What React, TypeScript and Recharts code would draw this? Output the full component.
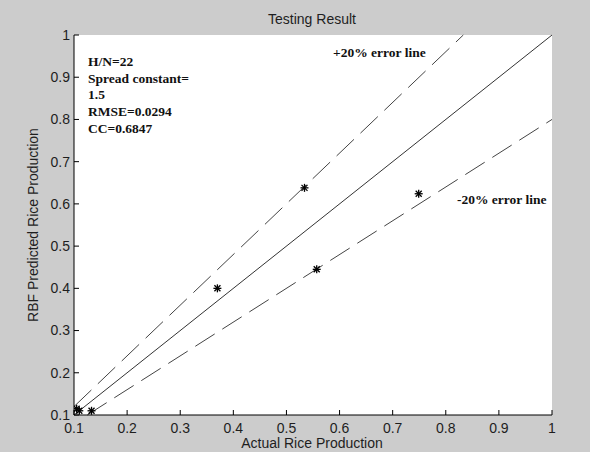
import { ComposedChart, XAxis, YAxis, Scatter, ReferenceLine, CartesianGrid } from 'recharts';

// measured values (actual vs RBF predicted)
const actual = [0.105, 0.11, 0.133, 0.37, 0.534, 0.557, 0.749];
const predicted = [0.115, 0.11, 0.11, 0.4, 0.638, 0.445, 0.624];

const ticks = [0.1, 0.2, 0.3, 0.4, 0.5, 0.6, 0.7, 0.8, 0.9, 1];
const tickLabels = ['0.1', '0.2', '0.3', '0.4', '0.5', '0.6', '0.7', '0.8', '0.9', '1'];

// reference lines: ideal, +20% and -20% error (start/end points)
const idealLine = [{ x: 0.1, y: 0.1 }, { x: 1, y: 1 }];
const plusLine = [{ x: 0.1, y: 0.12 }, { x: 0.833, y: 1 }];
const minusLine = [{ x: 0.125, y: 0.1 }, { x: 1, y: 0.8 }];

const infoLines = ['H/N=22', 'Spread constant=', '1.5', 'RMSE=0.0294', 'CC=0.6847'];

const points = actual.map((x, i) => ({ x, y: predicted[i] }));

const SANS = '"Liberation Sans", Arial, sans-serif';
const SERIF = '"Liberation Serif", "Times New Roman", serif';
const TEXT = '#1e1e1e';

const labelOf = (v: number) => tickLabels[ticks.indexOf(v)] ?? String(v);

const BottomTick = (props: any) => {
  const { x, y, payload } = props;
  return (
    <g>
      <line x1={x} x2={x} y1={y} y2={y - 5} stroke="#000" />
      <text x={x} y={y + 13} dy="0.35em" textAnchor="middle" fontSize={14} fontFamily={SANS} fill={TEXT}>
        {labelOf(payload.value)}
      </text>
    </g>
  );
};

const TopTick = (props: any) => {
  const { x, y } = props;
  return <line x1={x} x2={x} y1={y} y2={y + 5} stroke="#000" />;
};

const LeftTick = (props: any) => {
  const { x, y, payload } = props;
  return (
    <g>
      <line x1={x} x2={x + 5} y1={y} y2={y} stroke="#000" />
      <text x={x - 4} y={y} dy="0.35em" textAnchor="end" fontSize={14} fontFamily={SANS} fill={TEXT}>
        {labelOf(payload.value)}
      </text>
    </g>
  );
};

const RightTick = (props: any) => {
  const { x, y } = props;
  return <line x1={x} x2={x - 5} y1={y} y2={y} stroke="#000" />;
};

const Star = (props: any) => {
  const { cx, cy } = props;
  return (
    <g stroke="#000" strokeWidth={1.3}>
      <line x1={cx - 4} x2={cx + 4} y1={cy} y2={cy} />
      <line x1={cx} x2={cx} y1={cy - 4} y2={cy + 4} />
      <line x1={cx - 3} x2={cx + 3} y1={cy - 3} y2={cy + 3} />
      <line x1={cx - 3} x2={cx + 3} y1={cy + 3} y2={cy - 3} />
    </g>
  );
};

const annot = {
  position: 'absolute' as const,
  transform: 'translateY(-50%)',
  fontFamily: SERIF,
  fontWeight: 'bold' as const,
  fontSize: 13.5,
  lineHeight: '14px',
  color: '#111',
  whiteSpace: 'nowrap' as const,
};

const sansLabel = {
  position: 'absolute' as const,
  fontFamily: SANS,
  fontSize: 14,
  lineHeight: '15px',
  color: TEXT,
  whiteSpace: 'nowrap' as const,
};

export default function App() {
  return (
    <div style={{ position: 'absolute', left: 0, top: 0, width: 590, height: 452, background: '#cccccc', overflow: 'hidden' }}>
      <ComposedChart width={590} height={452} margin={{ top: 35, right: 38, bottom: 0, left: 0 }}>
        <CartesianGrid horizontal={false} vertical={false} fill="#ffffff" fillOpacity={1} />
        <XAxis
          type="number"
          dataKey="x"
          domain={[0.1, 1]}
          ticks={ticks}
          allowDataOverflow
          height={37}
          tickSize={0}
          tickMargin={0}
          tickLine={false}
          axisLine={{ stroke: '#000' }}
          tick={BottomTick}
          interval={0}
        />
        <XAxis
          xAxisId="top"
          orientation="top"
          type="number"
          domain={[0.1, 1]}
          ticks={ticks}
          allowDataOverflow
          height={0}
          tickSize={0}
          tickMargin={0}
          tickLine={false}
          axisLine={{ stroke: '#000' }}
          tick={TopTick}
          interval={0}
        />
        <YAxis
          type="number"
          dataKey="y"
          domain={[0.1, 1]}
          ticks={ticks}
          allowDataOverflow
          width={74}
          tickSize={0}
          tickMargin={0}
          tickLine={false}
          axisLine={{ stroke: '#000' }}
          tick={LeftTick}
          interval={0}
        />
        <YAxis
          yAxisId="right"
          orientation="right"
          type="number"
          domain={[0.1, 1]}
          ticks={ticks}
          allowDataOverflow
          width={0}
          tickSize={0}
          tickMargin={0}
          tickLine={false}
          axisLine={{ stroke: '#000' }}
          tick={RightTick}
          interval={0}
        />
        <ReferenceLine segment={idealLine} stroke="#333" strokeWidth={1} />
        <ReferenceLine segment={plusLine} stroke="#444" strokeWidth={1} strokeDasharray="24 9" />
        <ReferenceLine segment={minusLine} stroke="#444" strokeWidth={1} strokeDasharray="23 9" />
        <Scatter data={points} shape={Star} isAnimationActive={false} />
      </ComposedChart>

      <div style={{ ...sansLabel, left: 312, top: 19, transform: 'translate(-50%, -50%)' }}>Testing Result</div>
      <div style={{ ...sansLabel, left: 312, top: 443, transform: 'translate(-50%, -50%)' }}>Actual Rice Production</div>
      <div style={{ ...sansLabel, left: 33, top: 225, transform: 'translate(-50%, -50%) rotate(-90deg)' }}>
        RBF Predicted Rice Production
      </div>

      {infoLines.map((t, i) => (
        <div key={t} style={{ ...annot, left: 88, top: 62 + i * 16.7 }}>
          {t}
        </div>
      ))}
      <div style={{ ...annot, left: 333, top: 53 }}>+20% error line</div>
      <div style={{ ...annot, left: 457, top: 200 }}>-20% error line</div>
    </div>
  );
}
